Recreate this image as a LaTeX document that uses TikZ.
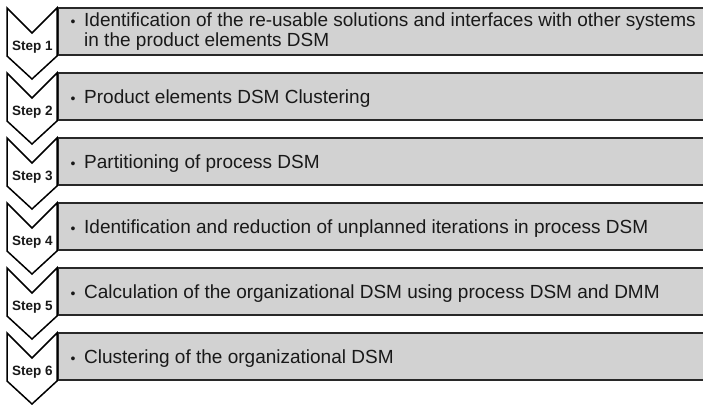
\documentclass[tikz,border=0pt]{standalone}
\usepackage{fontspec}
\setmainfont{Liberation Sans}
\definecolor{boxfill}{RGB}{210,210,210}
\definecolor{boxline}{RGB}{40,40,40}
\begin{document}
\begin{tikzpicture}[x=1pt,y=-1pt,
  stepbox/.style={fill=boxfill,draw=boxline,line width=1.8pt},
  chev/.style={fill=white,draw=black,line width=1.5pt,line join=miter},
  steplabel/.style={font=\bfseries\fontsize{13.5}{15}\selectfont,anchor=base,inner sep=0pt,text=black!90},
  itemtext/.style={font=\fontsize{19}{20}\selectfont,anchor=base west,inner sep=0pt,text=black!90},
  bul/.style={font=\fontsize{14}{15}\selectfont,anchor=base,inner sep=0pt,text=black!90}]
\useasboundingbox (0,0) rectangle (703,404);
\clip (0,0) rectangle (703,404);
\foreach \t/\n in {8/1,73/2,138/3,203/4,268/5,333/6}{
  \draw[stepbox] (58.5,\t) rectangle (712,\t+47);
  \draw[chev] (7,\t) -- (32,\t+25) -- (57,\t) -- (57,\t+48) -- (32,\t+71) -- (7,\t+48) -- cycle;
  \node[steplabel] (s\n) at (32.5,\t+42) {Step \n};
}
% row 1
\node[bul] (b1) at (73,27) {•};
\node[itemtext] (t1a) at (84,27) {Identification of the re-usable solutions and interfaces with other systems};
\node[itemtext] (t1b) at (84,47) {in the product elements DSM};
% row 2
\node[bul] (b2) at (73,103) {•};
\node[itemtext] (t2) at (84,103) {Product elements DSM Clustering};
% row 3
\node[bul] (b3) at (73,168) {•};
\node[itemtext] (t3) at (84,168) {Partitioning of process DSM};
% row 4
\node[bul] (b4) at (73,233) {•};
\node[itemtext] (t4) at (84,233) {Identification and reduction of unplanned iterations in process DSM};
% row 5
\node[bul] (b5) at (73,298) {•};
\node[itemtext] (t5) at (84,298) {Calculation of the organizational DSM using process DSM and DMM};
% row 6
\node[bul] (b6) at (73,363) {•};
\node[itemtext] (t6) at (84,363) {Clustering of the organizational DSM};
\end{tikzpicture}
\end{document}
